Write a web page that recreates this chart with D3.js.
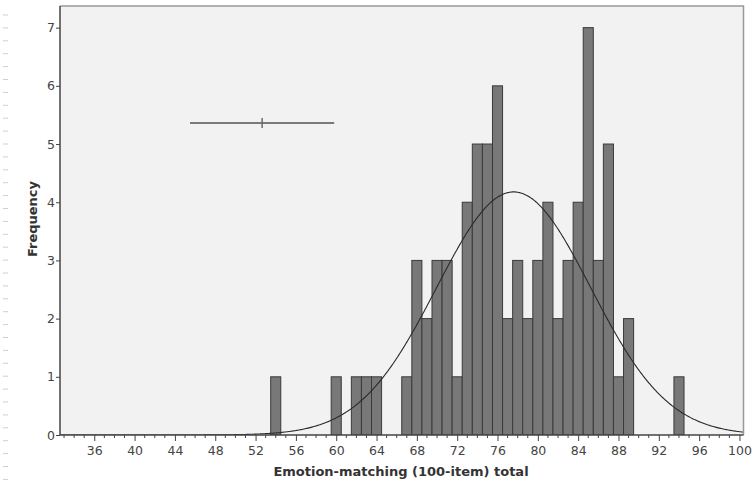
<!DOCTYPE html>
<html><head><meta charset="utf-8">
<script src="https://cdn.jsdelivr.net/npm/d3@7"></script>
<style>body{margin:0;background:#fff}svg{display:block}</style>
</head><body><svg id="c" width="755" height="486"></svg>
<script>
// Data
const binCenters = [54,60,62,63,64,67,68,69,70,71,72,73,74,75,76,77,78,79,80,81,82,83,84,85,86,87,88,89,94];
const binCounts  = [ 1, 1, 1, 1, 1, 1, 3, 2, 3, 3, 1, 4, 5, 5, 6, 2, 3, 2, 3, 4, 2, 3, 4, 7, 3, 5, 1, 2, 1];
const xTickLabels = [36,40,44,48,52,56,60,64,68,72,76,80,84,88,92,96,100];
const yTickLabels = [0,1,2,3,4,5,6,7];
const curveMean = 77.6, curveSD = 7.64, curveN = 80, binWidth = 1;
const errBar = {lo: 45.5, mid: 52.65, hi: 59.8, y: 5.36};

const svg = d3.select("#c");
const L = 60, R = 743.5, T = 6, B = 435;
const x = d3.scaleLinear().domain([32.6, 100.4]).range([L, R]);
const y = d3.scaleLinear().domain([0, 7.372]).range([B, T]);
const font = "'DejaVu Sans', sans-serif";

// left page dashes
svg.selectAll("line.dash").data(d3.range(15, 486, 12.9)).enter().append("line")
  .attr("x1",3).attr("x2",8).attr("y1",d=>d).attr("y2",d=>d)
  .attr("stroke","#cfcfcf").attr("stroke-width",1);

// plot background
svg.append("rect").attr("x",L).attr("y",T).attr("width",R-L).attr("height",B-T).attr("fill","#f2f2f2");

// clip
svg.append("clipPath").attr("id","clip").append("rect").attr("x",L).attr("y",T).attr("width",R-L).attr("height",B-T);
const g = svg.append("g").attr("clip-path","url(#clip)");

// bars
g.selectAll("rect.bar").data(binCenters.map((c,i)=>({c, n: binCounts[i]}))).enter().append("rect")
  .attr("x", d => x(d.c - binWidth/2)).attr("width", d => x(d.c + binWidth/2) - x(d.c - binWidth/2))
  .attr("y", d => y(d.n)).attr("height", d => y(0) - y(d.n))
  .attr("fill","#787878").attr("stroke","#3a3a3a").attr("stroke-width",1);

// normal curve
const xs = d3.range(32.6, 100.41, 0.1);
const dens = v => curveN*binWidth/(curveSD*Math.sqrt(2*Math.PI))*Math.exp(-0.5*((v-curveMean)/curveSD)**2);
g.append("path").datum(xs).attr("d", d3.line().x(v=>x(v)).y(v=>y(dens(v))))
  .attr("fill","none").attr("stroke","#2a2a2a").attr("stroke-width",1.1);

// error bar marker
svg.append("line").attr("x1",x(errBar.lo)).attr("x2",x(errBar.hi)).attr("y1",y(errBar.y)).attr("y2",y(errBar.y))
  .attr("stroke","#7a7a7a").attr("stroke-width",2);
svg.append("line").attr("x1",x(errBar.mid)).attr("x2",x(errBar.mid)).attr("y1",y(errBar.y)-5).attr("y2",y(errBar.y)+5)
  .attr("stroke","#6a6a6a").attr("stroke-width",1.5);

// frame top/right
svg.append("path").attr("d",`M${L},${T}H${R}V${B}`).attr("fill","none").attr("stroke","#999").attr("stroke-width",1.5);

// x axis
const xAxis = d3.axisBottom(x).tickValues(xTickLabels).tickSize(6).tickSizeOuter(0).tickFormat(d3.format("d"));
const gx = svg.append("g").attr("transform",`translate(0,${B})`).call(xAxis);
gx.select(".domain").attr("stroke","#444").attr("stroke-width",1.5).attr("d",`M${L},0H${R}`);
gx.selectAll(".tick line").attr("stroke","#444");
gx.selectAll(".tick text").attr("font-family",font).attr("font-size",12.5).attr("fill","#444").attr("dy","0.85em");
svg.append("g").selectAll("line").data(d3.range(33,101).filter(v=>v%4!==0)).enter().append("line")
  .attr("x1",d=>x(d)).attr("x2",d=>x(d)).attr("y1",B).attr("y2",B+3).attr("stroke","#444");

// y axis
const yAxis = d3.axisLeft(y).tickValues(yTickLabels).tickSize(4).tickSizeOuter(0).tickFormat(d3.format("d"));
const gy = svg.append("g").attr("transform",`translate(${L},0)`).call(yAxis);
gy.select(".domain").attr("stroke","#444").attr("stroke-width",1.5).attr("d",`M0,${T}V${B}`);
gy.selectAll(".tick line").attr("stroke","#444");
gy.selectAll(".tick text").attr("font-family",font).attr("font-size",12.5).attr("fill","#444").attr("x",-5);

// titles
svg.append("text").attr("x",401).attr("y",476).attr("text-anchor","middle")
  .attr("font-family",font).attr("font-weight","bold").attr("font-size",13).attr("fill","#333")
  .text("Emotion-matching (100-item) total");
svg.append("text").attr("transform","translate(37,219) rotate(-90)").attr("text-anchor","middle")
  .attr("font-family",font).attr("font-weight","bold").attr("font-size",13).attr("fill","#333")
  .text("Frequency");
</script></body></html>
